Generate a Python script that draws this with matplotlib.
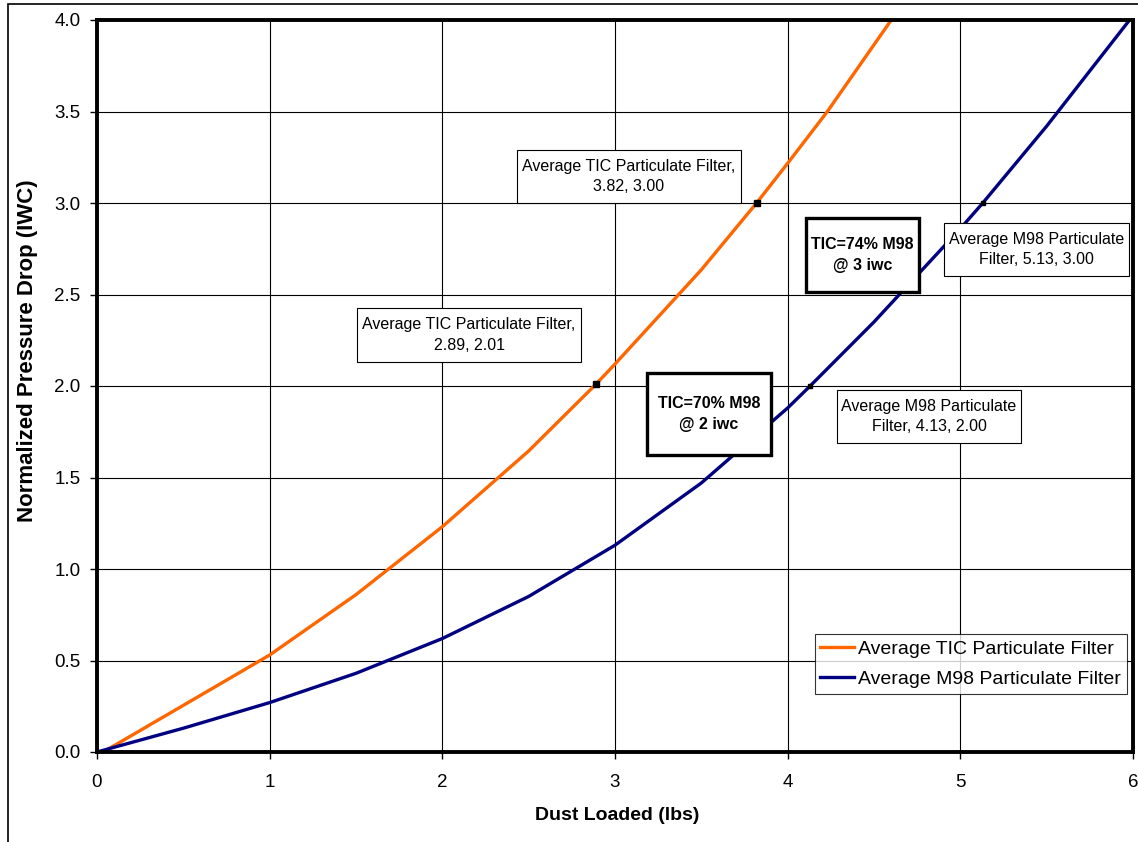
import matplotlib
matplotlib.use('Agg')
import matplotlib.pyplot as plt
from matplotlib.patches import Rectangle

plt.rcParams['font.family'] = ['Liberation Sans', 'DejaVu Sans']

# data
tic_x = [0.0, 0.5, 1.0, 1.5, 2.0, 2.5, 2.89, 3.0, 3.5, 3.82, 4.0, 4.23, 4.6]
tic_y = [-0.02, 0.255, 0.53, 0.86, 1.231, 1.645, 2.01, 2.12, 2.635, 3.0, 3.217, 3.5, 4.0]
m98_x = [0.0, 0.5, 1.0, 1.5, 2.0, 2.5, 3.0, 3.5, 4.0, 4.13, 4.5, 5.0, 5.13, 5.5, 5.98]
m98_y = [0.0, 0.13, 0.27, 0.43, 0.62, 0.85, 1.13, 1.47, 1.88, 2.0, 2.35, 2.86, 3.0, 3.42, 4.0]

tic_pts_x = [2.89, 3.82]
tic_pts_y = [2.01, 3.00]
m98_pts_x = [4.13, 5.13]
m98_pts_y = [2.00, 3.00]

TIC_LABEL = 'Average TIC Particulate Filter'
M98_LABEL = 'Average M98 Particulate Filter'

ORANGE = '#FF6600'
NAVY = '#000080'

W, H = 1138, 842
fig = plt.figure(figsize=(W / 100, H / 100), dpi=100)
ax = fig.add_axes([97 / W, 1 - 752 / H, 1036 / W, 732 / H])

# outer chart-area frame (cut by the image edge)
fig.patches.append(Rectangle((8 / W, -0.1), 1.2, 1 - 4 / H + 0.1,
                             transform=fig.transFigure, fill=False,
                             ec='black', lw=1.2))

ax.plot(tic_x, tic_y, color=ORANGE, lw=2.4, label=TIC_LABEL, zorder=3,
        solid_joinstyle='round')
ax.plot(m98_x, m98_y, color=NAVY, lw=2.4, label=M98_LABEL, zorder=3,
        solid_joinstyle='round')
ax.plot(tic_pts_x, tic_pts_y, 's', color='black', ms=5, zorder=4)
ax.plot(m98_pts_x, m98_pts_y, 's', color='black', ms=2.5, zorder=4)

ax.set_xlim(0, 6)
ax.set_ylim(0, 4)
ax.set_xticks(range(7))
ax.set_yticks([i * 0.5 for i in range(9)])
ax.set_yticklabels([f'{i * 0.5:.1f}' for i in range(9)])
ax.tick_params(labelsize=13.5, direction='out', length=5, width=1)
ax.tick_params(axis='x', pad=11)
ax.tick_params(axis='y', pad=7)
ax.grid(True, color='black', lw=0.8)
for s in ax.spines.values():
    s.set_linewidth(2.8)
    s.set_zorder(5)

ax.set_xlabel('Dust Loaded (lbs)', fontsize=14, fontweight='bold')
ax.set_ylabel('Normalized Pressure Drop (IWC)', fontsize=16, fontweight='bold')
ax.xaxis.set_label_coords(0.502, -0.075)
ax.yaxis.set_label_coords(-0.057, 0.548)


def box(x0, y0, x1, y1, text, bold=False):
    # box edges in figure pixels, measured from the top-left corner
    fig.patches.append(Rectangle((x0 / W, 1 - y1 / H), (x1 - x0) / W, (y1 - y0) / H,
                                 transform=fig.transFigure, fc='white', ec='black',
                                 lw=2.4 if bold else 0.8, zorder=6))
    fig.text((x0 + x1) / 2 / W, 1 - (y0 + y1) / 2 / H, text, ha='center', va='center',
             fontsize=11.5, fontweight='bold' if bold else 'normal',
             linespacing=1.45 if not bold else 1.5, zorder=7)


box(517, 150, 741, 203, 'Average TIC Particulate Filter,\n3.82, 3.00')
box(357, 308, 581, 362, 'Average TIC Particulate Filter,\n2.89, 2.01')
box(944, 223, 1129, 276, 'Average M98 Particulate\nFilter, 5.13, 3.00')
box(837, 390, 1021, 443, 'Average M98 Particulate\nFilter, 4.13, 2.00')
box(806, 218, 919, 292, 'TIC=74% M98\n@ 3 iwc', bold=True)
box(647, 373, 771, 455, 'TIC=70% M98\n@ 2 iwc', bold=True)

leg = ax.legend(loc='lower right', bbox_to_anchor=(0.9942, 0.0792), fontsize=14,
                frameon=True, fancybox=False, edgecolor='black',
                handlelength=1.75, handletextpad=0.2, borderpad=0.3,
                labelspacing=0.65, borderaxespad=0)
leg.get_frame().set_linewidth(0.8)
leg.set_zorder(6)

fig.savefig('out.png', dpi=100)
